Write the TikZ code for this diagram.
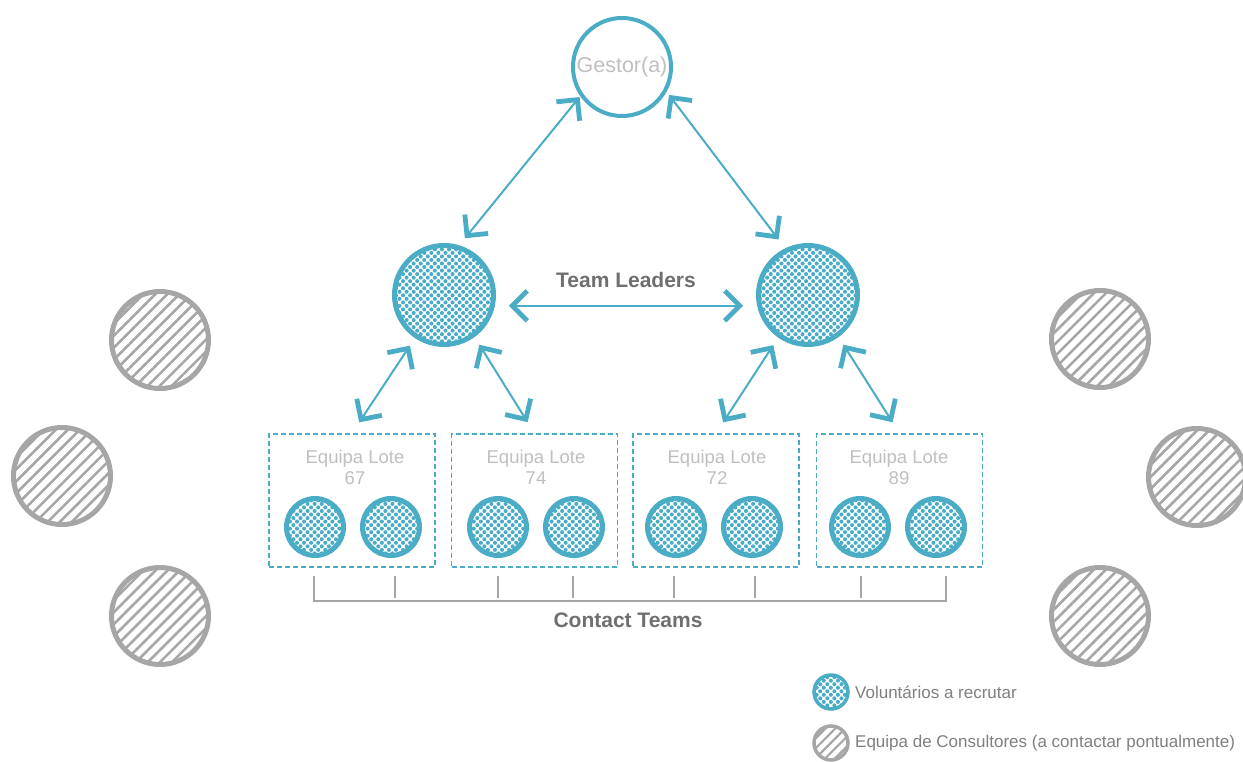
\documentclass[tikz,border=0pt]{standalone}
\usepackage{fontspec}
\setmainfont{Liberation Sans}
\usetikzlibrary{arrows.meta, patterns.meta}
\definecolor{azul}{HTML}{4BACC6}
\definecolor{cinza}{HTML}{A6A6A6}
\definecolor{claro}{HTML}{BFBFBF}
\definecolor{escuro}{HTML}{6F6F6F}
\definecolor{legenda}{HTML}{7F7F7F}
\begin{document}
\begin{tikzpicture}[x=1pt, y=-1pt, inner sep=2pt,
		>={Straight Barb[length=15pt, width=30pt, line width=0pt 2.4]},
		voluntario/.style={circle, draw=azul, line width=5pt, pattern={Dots[radius=2.05pt, distance=5pt, angle=45]}, pattern color=azul},
		consultor/.style={circle, draw=cinza, line width=5pt, pattern={Lines[angle=45, distance=8.5pt, line width=2.6pt]}, pattern color=cinza},
		lote/.style={draw=azul, dash pattern=on 5pt off 3pt, line width=1.5pt, minimum width=166pt, minimum height=133pt},
		dupla/.style={<->, draw=azul, line width=2pt},
		titulo/.style={text=escuro, font=\fontsize{21}{24}\selectfont\bfseries}]
		\useasboundingbox (0,0) rectangle (1243,762);
		% topo
		\node[circle, draw=azul, line width=4pt, minimum size=98pt, text=claro, font=\fontsize{21.5}{24}\selectfont] (gestor) at (622,67) {Gestor(a)};
		\node[voluntario, minimum size=99pt] (lider1) at (444,295) {};
		\node[voluntario, minimum size=99pt] (lider2) at (808,295) {};
		\node[titulo] (leaders) at (626,280) {Team Leaders};
		\draw[dupla, shorten <=1pt, shorten >=9pt] (gestor.215) -- (lider1.73);
		\draw[dupla, shorten <=4pt, shorten >=11pt] (gestor.331) -- (lider2.116);
		\draw[dupla, shorten <=14pt, shorten >=14pt] (lider1.-12) -- (lider2.192);
		% equipas
		\node[lote] (lote67) at (352,500.5) {};
		\node[lote] (lote74) at (534.5,500.5) {};
		\node[lote] (lote72) at (716,500.5) {};
		\node[lote] (lote89) at (899.5,500.5) {};
		\node[align=center, text=claro, font=\fontsize{18.5}{21}\selectfont] (t67) at (355,467) {Equipa Lote\\67};
		\node[align=center, text=claro, font=\fontsize{18.5}{21}\selectfont] (t74) at (536,467) {Equipa Lote\\74};
		\node[align=center, text=claro, font=\fontsize{18.5}{21}\selectfont] (t72) at (717,467) {Equipa Lote\\72};
		\node[align=center, text=claro, font=\fontsize{18.5}{21}\selectfont] (t89) at (899,467) {Equipa Lote\\89};
		\node[voluntario, minimum size=57pt] (v1) at (315,527) {};
		\node[voluntario, minimum size=57pt] (v2) at (391,527) {};
		\node[voluntario, minimum size=57pt] (v3) at (498,527) {};
		\node[voluntario, minimum size=57pt] (v4) at (574,527) {};
		\node[voluntario, minimum size=57pt] (v5) at (676,527) {};
		\node[voluntario, minimum size=57pt] (v6) at (752,527) {};
		\node[voluntario, minimum size=57pt] (v7) at (860,527) {};
		\node[voluntario, minimum size=57pt] (v8) at (936,527) {};
		\draw[dupla, shorten <=9pt, shorten >=13pt] (lider1.236) -- (lote67.north);
		\draw[dupla, shorten <=9pt, shorten >=13pt] (lider1.306) -- (lote74.north);
		\draw[dupla, shorten <=9pt, shorten >=13pt] (lider2.235) -- (lote72.north);
		\draw[dupla, shorten <=9pt, shorten >=13pt] (lider2.306) -- (lote89.north);
		% chaveta
		\draw[cinza, line width=1.5pt] (314,576) -- (314,601) -- (946,601) -- (946,576);
		\draw[cinza, line width=1.5pt] (395,576) -- (395,598);
		\draw[cinza, line width=1.5pt] (498,576) -- (498,598);
		\draw[cinza, line width=1.5pt] (573,576) -- (573,598);
		\draw[cinza, line width=1.5pt] (674,576) -- (674,598);
		\draw[cinza, line width=1.5pt] (755,576) -- (755,598);
		\draw[cinza, line width=1.5pt] (861,576) -- (861,598);
		\node[titulo] (contact) at (628,620) {Contact Teams};
		% consultores
		\node[consultor, minimum size=97pt] (c1) at (160,340) {};
		\node[consultor, minimum size=97pt] (c2) at (62,476) {};
		\node[consultor, minimum size=97pt] (c3) at (160,616) {};
		\node[consultor, minimum size=97pt] (c4) at (1100,339) {};
		\node[consultor, minimum size=97pt] (c5) at (1197,477) {};
		\node[consultor, minimum size=97pt] (c6) at (1100,616) {};
		% legenda
		\node[voluntario, line width=3.5pt, minimum size=34pt] (leg1) at (831,692) {};
		\node[consultor, line width=3.5pt, minimum size=34pt, pattern={Lines[angle=45, distance=7pt, line width=2.2pt]}] (leg2) at (831,743) {};
		\node[anchor=west, text=legenda, font=\fontsize{17}{20}\selectfont, inner sep=0pt] (legtxt1) at (855,692) {Voluntários a recrutar};
		\node[anchor=west, text=legenda, font=\fontsize{17}{20}\selectfont, inner sep=0pt] (legtxt2) at (855,743) {Equipa de Consultores (a contactar pontualmente)};
	\end{tikzpicture}
\end{document}
